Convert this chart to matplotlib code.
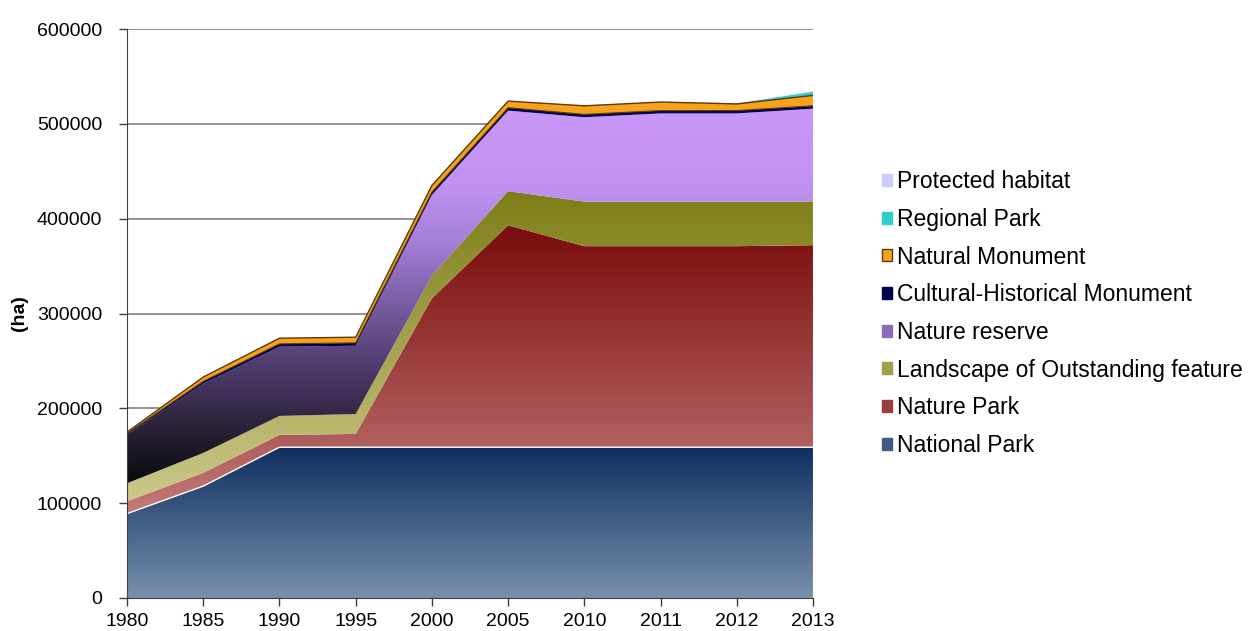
import numpy as np
import matplotlib.pyplot as plt
from matplotlib.colors import LinearSegmentedColormap
from matplotlib.patches import Polygon, Patch

plt.rcParams['font.family'] = ['Liberation Sans', 'DejaVu Sans']

years = ['1980', '1985', '1990', '1995', '2000', '2005', '2010', '2011', '2012', '2013']

national_park = [89000, 118000, 159000, 159000, 159000, 159000, 159000, 159000, 159000, 159000]
nature_park = [13000, 14000, 13000, 14000, 157000, 234000, 212000, 212000, 212000, 213000]
landscape = [19000, 21000, 20000, 21000, 24000, 36000, 47000, 47000, 47000, 46000]
nature_reserve = [51000, 73000, 73000, 72000, 85000, 85000, 89000, 93000, 93000, 98000]
cultural = [1500, 2500, 3000, 3000, 3000, 3000, 3000, 3000, 3000, 3000]
natural_monument = [1500, 4500, 6000, 6000, 7000, 7000, 9000, 9000, 7000, 11000]
regional_park = [0, 0, 0, 0, 0, 0, 0, 0, 500, 4000]
protected_habitat = [0, 0, 0, 0, 0, 300, 300, 300, 300, 400]

# name, values, gradient stops (bottom -> top), edge colour
series = [
    ('National Park', national_park, ['#7890ac', '#0f2f5f'], 'white'),
    ('Nature Park', nature_park, ['#c27a78', '#7a0c0c'], None),
    ('Landscape of Outstanding feature', landscape, ['#ccc88a', '#7d7d16'], None),
    ('Nature reserve', nature_reserve,
     [(0, '#0a0a0a'), (0.35, '#58437a'), (0.65, '#a680da'), (0.8, '#c292f2'), (1, '#c897f8')], None),
    ('Cultural-Historical Monument', cultural, ['#000050', '#000050'], None),
    ('Natural Monument', natural_monument, ['#f7a21b', '#f7a21b'], '#5a3a10'),
    ('Regional Park', regional_park, ['#33cccc', '#33cccc'], None),
    ('Protected habitat', protected_habitat, ['#ccccff', '#ccccff'], None),
]

fig = plt.figure(figsize=(12.48, 6.31), dpi=100)
ax = fig.add_axes([0.1018, 0.0523, 0.5496, 0.9017])

x = np.arange(len(years))
base = np.zeros(len(years))
handles = []
for name, vals, stops, edge in series:
    top = base + np.array(vals, dtype=float)
    verts = list(zip(x, top)) + list(zip(x[::-1], base[::-1]))
    poly = Polygon(verts, closed=True, facecolor='none', edgecolor='none', zorder=2)
    ax.add_patch(poly)
    ymin, ymax = base.min(), top.max()
    cmap = LinearSegmentedColormap.from_list(name, stops)
    grad = np.linspace(0, 1, 256).reshape(-1, 1)
    im = ax.imshow(grad, extent=[x[0], x[-1], ymin, ymax], origin='lower',
                   aspect='auto', cmap=cmap, zorder=2, interpolation='bilinear')
    im.set_clip_path(poly)
    if edge is not None:
        ax.plot(x, top, color=edge, lw=1.0, zorder=3)
        if name == 'Natural Monument':
            ax.plot(x, base, color=edge, lw=0.8, zorder=3)
    mid = cmap(0.55)
    handles.append(Patch(facecolor=mid,
                         edgecolor='#5a3a10' if name == 'Natural Monument' else mid,
                         label=name))
    base = top

ax.set_xlim(0, len(years) - 1)
ax.set_ylim(0, 600000)
ax.set_xticks(x)
ax.set_xticklabels(years)
ax.set_yticks(np.arange(0, 600001, 100000))
ax.ticklabel_format(axis='y', style='plain')
ax.yaxis.grid(True, color='#7f7f7f', lw=1.2, zorder=0)
ax.set_axisbelow(True)
for s in ['top', 'right']:
    ax.spines[s].set_visible(False)
for s in ['left', 'bottom']:
    ax.spines[s].set_color('#404040')
    ax.spines[s].set_zorder(4)
ax.tick_params(axis='both', labelsize=14, color='#404040', length=6, width=1)
ax.tick_params(axis='y', pad=12)
ax.tick_params(axis='x', pad=5)
ax.set_ylabel('(ha)', fontsize=14, fontweight='bold', labelpad=6)

ax.legend(handles=handles[::-1], loc='center left', bbox_to_anchor=(1.071, 0.50),
          frameon=False, fontsize=16.5, handlelength=0.44, handleheight=0.44,
          handletextpad=0.2, labelspacing=0.64)

fig.savefig('out.png', dpi=100)
